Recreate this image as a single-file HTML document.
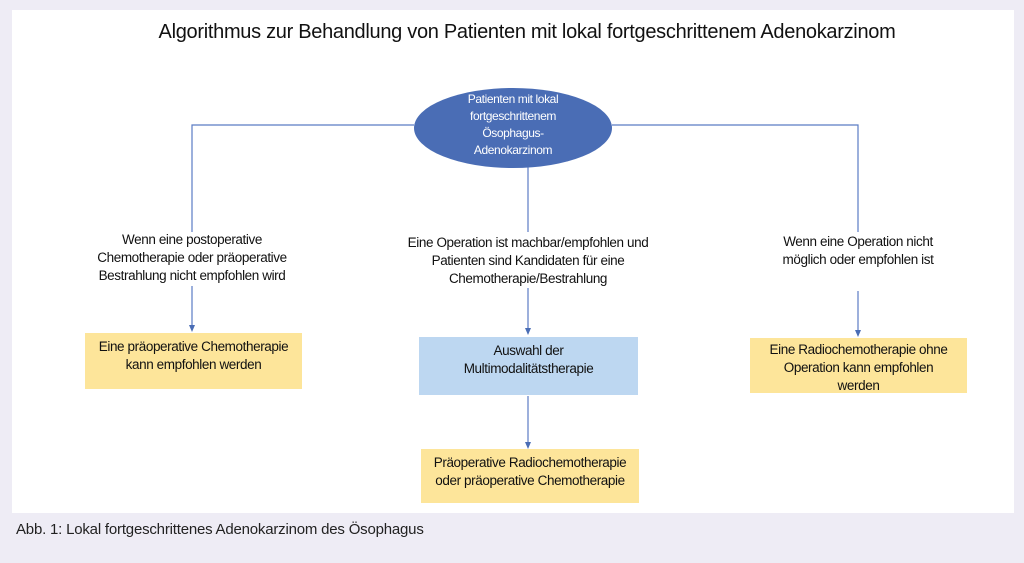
<!DOCTYPE html>
<html><head><meta charset="utf-8"><style>
body{margin:0;width:1024px;height:563px;background:#eeecf5;position:relative;overflow:hidden;font-family:"Liberation Sans",sans-serif;}
.panel{position:absolute;left:12px;top:10px;width:1002px;height:503px;background:#fff;}
.t{position:absolute;text-align:center;color:#111;font-size:13.5px;line-height:18px;letter-spacing:-0.4px;}
.box{position:absolute;display:flex;justify-content:center;text-align:center;font-size:13.5px;line-height:18px;letter-spacing:-0.4px;color:#111;padding-top:5px;box-sizing:border-box;}
</style></head><body>
<div class="panel"></div>
<div class="t" style="left:0;width:1054px;top:20px;font-size:20px;line-height:24px;letter-spacing:-0.3px;">Algorithmus zur Behandlung von Patienten mit lokal fortgeschrittenem Adenokarzinom</div>
<svg style="position:absolute;left:0;top:0" width="1024" height="563">
<g stroke="#5b7cc4" stroke-width="1.2" fill="none">
<polyline points="414,125 192,125 192,232"/>
<polyline points="612,125 858,125 858,232"/>
<line x1="528" y1="166" x2="528" y2="232"/>
<line x1="192" y1="286" x2="192" y2="326"/>
<line x1="528" y1="288" x2="528" y2="329"/>
<line x1="528" y1="396" x2="528" y2="443"/>
<line x1="858" y1="291" x2="858" y2="331"/>
</g>
<g fill="#4a6db5">
<polygon points="189,325 195,325 192,332"/>
<polygon points="525,328 531,328 528,335"/>
<polygon points="525,442 531,442 528,449"/>
<polygon points="855,330 861,330 858,337"/>
</g>
<ellipse cx="513" cy="128" rx="99" ry="40" fill="#4a6db5"/>
</svg>
<div class="t" style="left:414px;width:198px;top:91px;color:#fff;font-size:12px;line-height:17px;">Patienten mit lokal<br>fortgeschrittenem<br>Ösophagus-<br>Adenokarzinom</div>
<div class="t" style="left:62px;width:260px;top:231px;">Wenn eine postoperative<br>Chemotherapie oder präoperative<br>Bestrahlung nicht empfohlen wird</div>
<div class="t" style="left:378px;width:300px;top:234px;">Eine Operation ist machbar/empfohlen und<br>Patienten sind Kandidaten für eine<br>Chemotherapie/Bestrahlung</div>
<div class="t" style="left:728px;width:260px;top:233px;">Wenn eine Operation nicht<br>möglich oder empfohlen ist</div>
<div class="box" style="left:85px;top:333px;width:217px;height:56px;background:#fde59a;">Eine präoperative Chemotherapie<br>kann empfohlen werden</div>
<div class="box" style="left:419px;top:337px;width:219px;height:58px;background:#bdd7f1;">Auswahl der<br>Multimodalitätstherapie</div>
<div class="box" style="left:421px;top:449px;width:218px;height:54px;background:#fde59a;">Präoperative Radiochemotherapie<br>oder präoperative Chemotherapie</div>
<div class="box" style="left:750px;top:338px;width:217px;height:55px;background:#fde59a;padding-top:3px;">Eine Radiochemotherapie ohne<br>Operation kann empfohlen<br>werden</div>
<div class="t" style="left:16px;top:521px;text-align:left;font-size:15px;color:#222;letter-spacing:-0.2px;">Abb. 1: Lokal fortgeschrittenes Adenokarzinom des Ösophagus</div>
</body></html>
